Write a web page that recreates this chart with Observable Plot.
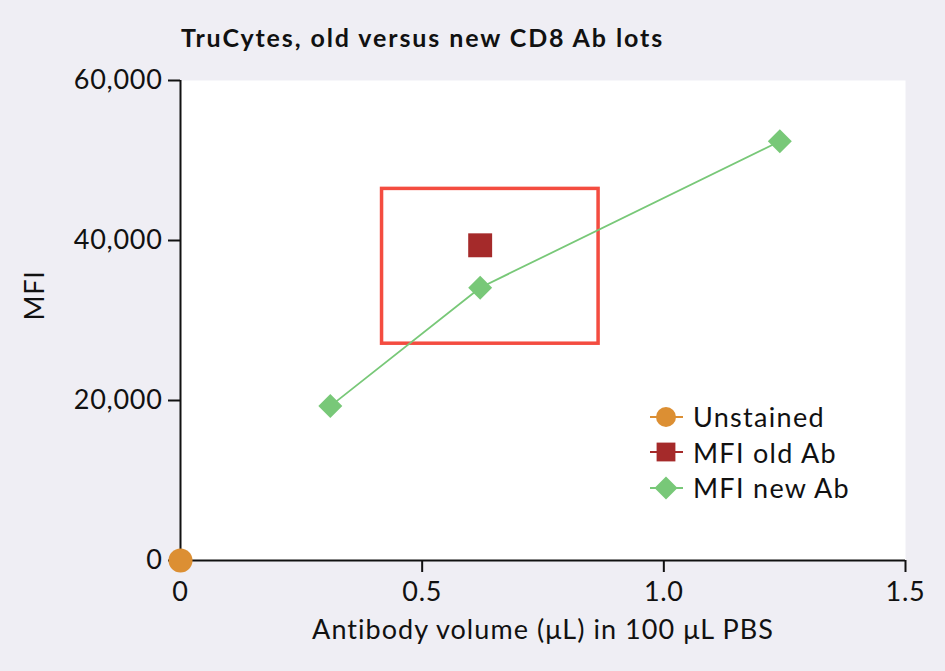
<!DOCTYPE html>
<html>
<head>
<meta charset="utf-8">
<script src="https://cdn.jsdelivr.net/npm/d3@7"></script>
<script src="https://cdn.jsdelivr.net/npm/@observablehq/plot@0.6"></script>
<style>
  html, body { margin: 0; padding: 0; background: #efeef4; }
  #wrap { position: relative; width: 945px; height: 671px; background: #efeef4; font-family: Lato, "Noto Sans", sans-serif; overflow: hidden; }
  #title { height: 60px; box-sizing: border-box; padding: 20px 0 0 181px; font-weight: bold; font-size: 25px; letter-spacing: 1.9px; color: #111; line-height: 34px; }
  #legend { position: absolute; left: 648px; top: 399px; font-size: 27px; letter-spacing: 1.3px; color: #111; }
  .row { height: 35.5px; display: flex; align-items: center; }
  .row svg { margin-right: 9px; }
  #chart svg text { letter-spacing: 0.7px; }
</style>
</head>
<body>
<div id="wrap">
  <div id="title">TruCytes, old versus new CD8 Ab lots</div>
  <div id="chart"></div>
  <div id="legend"></div>
</div>
<script>
// ---- data ----
const seriesNames = ["Unstained", "MFI old Ab", "MFI new Ab"];
const seriesColors = ["#dc8f33", "#a52a2a", "#78c878"];
const unstainedX = [0];
const unstainedY = [0];
const oldAbX = [0.62];
const oldAbY = [39400];
const newAbX = [0.31, 0.62, 1.24];
const newAbY = [19300, 34100, 52400];
const boxX = [0.417, 0.865];
const boxY = [27100, 46450];
const xTicks = [0, 0.5, 1.0, 1.5];
const xTickLabels = ["0", "0.5", "1.0", "1.5"];
const yTicks = [0, 20000, 40000, 60000];
const yTickLabels = ["0", "20,000", "40,000", "60,000"];
const xLabel = "Antibody volume (μL) in 100 μL PBS";
const yLabel = "MFI";

const unstained = unstainedX.map((x, i) => ({x, y: unstainedY[i]}));
const oldAb = oldAbX.map((x, i) => ({x, y: oldAbY[i]}));
const newAb = newAbX.map((x, i) => ({x, y: newAbY[i]}));
const box = [{x1: boxX[0], x2: boxX[1], y1: boxY[0], y2: boxY[1]}];

const chart = Plot.plot({
  width: 945,
  height: 611,
  marginLeft: 180,
  marginRight: 40,
  marginTop: 20,
  marginBottom: 111,
  style: {fontFamily: "Lato, 'Noto Sans', sans-serif", background: "transparent", color: "#111"},
  x: {domain: [0, 1.5]},
  y: {domain: [0, 60000]},
  marks: [
    Plot.frame({fill: "white", stroke: null}),
    Plot.axisX({ticks: xTicks, tickFormat: (d) => xTickLabels[xTicks.indexOf(d)], tickSize: 12, tickPadding: 9, fontSize: 27, label: null, stroke: "#111", strokeWidth: 2}),
    Plot.axisY({ticks: yTicks, tickFormat: (d) => yTickLabels[yTicks.indexOf(d)], tickSize: 12, tickPadding: 6, fontSize: 27, label: null, stroke: "#111", strokeWidth: 2}),
    Plot.ruleX([0], {stroke: "#111", strokeWidth: 2}),
    Plot.ruleY([0], {stroke: "#111", strokeWidth: 2}),
    Plot.text([yLabel], {frameAnchor: "left", dx: -145, rotate: -90, fontSize: 27, fill: "#111"}),
    Plot.text([xLabel], {frameAnchor: "bottom", dy: 78, fontSize: 27, fill: "#111"}),
    Plot.rect(box, {x1: "x1", x2: "x2", y1: "y1", y2: "y2", fill: "none", stroke: "#f44c40", strokeWidth: 3.5}),
    Plot.line(newAb, {x: "x", y: "y", stroke: seriesColors[2], strokeWidth: 1.8}),
    Plot.dot(newAb, {x: "x", y: "y", symbol: "diamond2", r: 10.8, fill: seriesColors[2], stroke: null}),
    Plot.dot(oldAb, {x: "x", y: "y", symbol: "square", r: 13.5, fill: seriesColors[1], stroke: null}),
    Plot.dot(unstained, {x: "x", y: "y", symbol: "circle", r: 12, fill: seriesColors[0], stroke: null})
  ]
});
document.getElementById("chart").appendChild(chart);
d3.select(chart).selectAll("text").filter(function() { return this.textContent === xLabel; }).style("letter-spacing", "1.05px");

// legend
const symbols = [
  c => `<circle cx="18" cy="17" r="10" fill="${c}"/>`,
  c => `<rect x="8.6" y="7.6" width="18.8" height="18.8" fill="${c}"/>`,
  c => `<path d="M18,5.5 L29.5,17 L18,28.5 L6.5,17 Z" fill="${c}"/>`
];
const legend = document.getElementById("legend");
seriesNames.forEach((name, i) => {
  const row = document.createElement("div");
  row.className = "row";
  const c = seriesColors[i];
  row.innerHTML = `<svg width="36" height="34"><line x1="2" x2="35" y1="17" y2="17" stroke="${c}" stroke-width="1.8"/>${symbols[i](c)}</svg><span>${name}</span>`;
  legend.appendChild(row);
});
</script>
</body>
</html>
